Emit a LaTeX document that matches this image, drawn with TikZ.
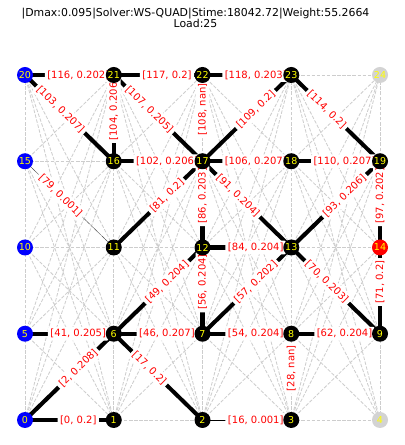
\documentclass[tikz,border=0pt]{standalone}
\usepackage{fontspec}
\setmainfont{DejaVu Sans}
\pgfdeclarelayer{gridlayer}
\pgfdeclarelayer{barlayer}
\pgfdeclarelayer{lablayer}
\pgfsetlayers{gridlayer,barlayer,lablayer,main}
\definecolor{meshgray}{RGB}{205,205,205}
\definecolor{nodegray}{RGB}{211,211,211}
\definecolor{labred}{RGB}{255,0,0}
\definecolor{numyellow}{RGB}{255,255,0}
\tikzset{
  vtx/.style={circle, minimum size=16bp, inner sep=0pt, text=numyellow, font=\fontsize{9.5bp}{11bp}\selectfont},
  blk/.style={vtx, fill=black},
  blu/.style={vtx, fill=blue},
  rdn/.style={vtx, fill=red},
  gry/.style={vtx, fill=nodegray},
  mesh/.style={draw=meshgray, line width=0.8bp, dash pattern=on 3.5bp off 1.6bp},
  bar/.style={draw=black, line width=#1},
  lab/.style={text=labred, fill=white, rounded corners=2bp, inner sep=2.5bp, font=\fontsize{10bp}{12bp}\selectfont, sloped, pos=0.6},
  ttl/.style={anchor=base, font=\fontsize{10.9bp}{13bp}\selectfont, inner sep=0pt}
}
\begin{document}
\begin{tikzpicture}[x=1bp,y=1bp]
\useasboundingbox (0,0) rectangle (404,445);
\begin{pgfonlayer}{gridlayer}
\fill[white] (0,0) rectangle (404,445);
\end{pgfonlayer}
% nodes
\node[blu] (n0) at (25,25) {0};
\node[blk] (n1) at (113.75,25) {1};
\node[blk] (n2) at (202.5,25) {2};
\node[blk] (n3) at (291.25,25) {3};
\node[gry] (n4) at (380,25) {4};
\node[blu] (n5) at (25,111.25) {5};
\node[blk] (n6) at (113.75,111.25) {6};
\node[blk] (n7) at (202.5,111.25) {7};
\node[blk] (n8) at (291.25,111.25) {8};
\node[blk] (n9) at (380,111.25) {9};
\node[blu] (n10) at (25,197.5) {10};
\node[blk] (n11) at (113.75,197.5) {11};
\node[blk] (n12) at (202.5,197.5) {12};
\node[blk] (n13) at (291.25,197.5) {13};
\node[rdn] (n14) at (380,197.5) {14};
\node[blu] (n15) at (25,283.75) {15};
\node[blk] (n16) at (113.75,283.75) {16};
\node[blk] (n17) at (202.5,283.75) {17};
\node[blk] (n18) at (291.25,283.75) {18};
\node[blk] (n19) at (380,283.75) {19};
\node[blu] (n20) at (25,370) {20};
\node[blk] (n21) at (113.75,370) {21};
\node[blk] (n22) at (202.5,370) {22};
\node[blk] (n23) at (291.25,370) {23};
\node[gry] (n24) at (380,370) {24};
% title
\node[ttl] (t1) at (195.5,428.5) {|Dmax:0.095|Solver:WS-QUAD|Stime:18042.72|Weight:55.2664};
\node[ttl] (t2) at (195.5,417) {Load:25};
% ground structure mesh
\begin{pgfonlayer}{gridlayer}
\foreach \c in {0,...,3}{
  \foreach \ra in {0,...,4}{
    \foreach \rb in {0,...,4}{
      \pgfmathtruncatemacro\na{5*\ra+\c}
      \pgfmathtruncatemacro\nb{5*\rb+\c+1}
      \draw[mesh] (n\na.center) -- (n\nb.center);
    }
  }
}
\foreach \c in {0,...,4}{
  \foreach \r in {0,...,3}{
    \pgfmathtruncatemacro\na{5*\r+\c}
    \pgfmathtruncatemacro\nb{5*\r+\c+5}
    \draw[mesh] (n\na.center) -- (n\nb.center);
  }
}
\end{pgfonlayer}
% members
\begin{pgfonlayer}{barlayer}
\foreach \a/\b/\w in {0/1/4, 0/6/4.16, 2/6/4, 2/3/0.1, 5/6/4.1, 6/7/4.14, 7/8/4.08, 8/9/4.08,
  6/12/4.08, 7/12/4.08, 7/13/4.04, 9/13/4.06, 9/14/4, 11/15/0.1, 11/17/4, 12/13/4.08,
  12/17/4.06, 13/17/4.08, 13/19/4.12, 14/19/4.04, 16/17/4.12, 16/20/4.14, 16/21/4.12,
  17/21/4.1, 17/18/4.14, 17/23/4, 18/19/4.14, 19/23/4, 20/21/4.04, 21/22/4, 22/23/4.06}{
  \draw[bar=\w bp] (n\a.center) -- (n\b.center);
}
\end{pgfonlayer}
% labels
\begin{pgfonlayer}{lablayer}
\foreach \a/\b/\t in {0/1/{[0, 0.2]}, 0/6/{[2, 0.208]}, 2/6/{[17, 0.2]}, 2/3/{[16, 0.001]},
  3/8/{[28, nan]}, 5/6/{[41, 0.205]}, 6/7/{[46, 0.207]}, 7/8/{[54, 0.204]}, 8/9/{[62, 0.204]},
  6/12/{[49, 0.204]}, 7/12/{[56, 0.204]}, 7/13/{[57, 0.202]}, 9/13/{[70, 0.203]}, 9/14/{[71, 0.2]},
  11/15/{[79, 0.001]}, 11/17/{[81, 0.2]}, 12/13/{[84, 0.204]}, 12/17/{[86, 0.203]},
  13/17/{[91, 0.204]}, 13/19/{[93, 0.206]}, 14/19/{[97, 0.202]}, 16/17/{[102, 0.206]},
  16/20/{[103, 0.207]}, 16/21/{[104, 0.206]}, 17/21/{[107, 0.205]}, 17/22/{[108, nan]},
  17/23/{[109, 0.2]}, 17/18/{[106, 0.207]}, 18/19/{[110, 0.207]}, 19/23/{[114, 0.2]},
  20/21/{[116, 0.202]}, 21/22/{[117, 0.2]}, 22/23/{[118, 0.203]}}{
  \path (n\a.center) -- (n\b.center) node[lab] {\t};
}
\end{pgfonlayer}
\end{tikzpicture}
\end{document}
